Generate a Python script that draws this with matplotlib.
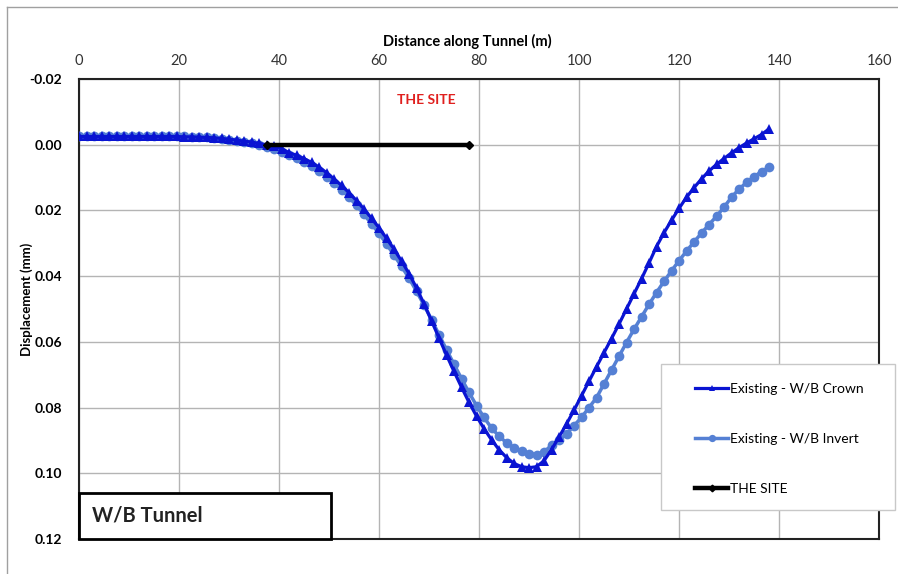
import matplotlib
matplotlib.use("Agg")
import matplotlib.pyplot as plt
from matplotlib.patches import Rectangle
from matplotlib.lines import Line2D
import numpy as np

plt.rcParams['font.family'] = ['Lato', 'DejaVu Sans']

# Chainage along the tunnel (m), one reading every 1.5 m
distance = [
    0.0, 1.5, 3.0, 4.5, 6.0, 7.5, 9.0, 10.5, 12.0, 13.5, 15.0, 16.5, 18.0, 19.5,
    21.0, 22.5, 24.0, 25.5, 27.0, 28.5, 30.0, 31.5, 33.0, 34.5, 36.0, 37.5, 39.0,
    40.5, 42.0, 43.5, 45.0, 46.5, 48.0, 49.5, 51.0, 52.5, 54.0, 55.5, 57.0, 58.5,
    60.0, 61.5, 63.0, 64.5, 66.0, 67.5, 69.0, 70.5, 72.0, 73.5, 75.0, 76.5, 78.0,
    79.5, 81.0, 82.5, 84.0, 85.5, 87.0, 88.5, 90.0, 91.5, 93.0, 94.5, 96.0, 97.5,
    99.0, 100.5, 102.0, 103.5, 105.0, 106.5, 108.0, 109.5, 111.0, 112.5, 114.0,
    115.5, 117.0, 118.5, 120.0, 121.5, 123.0, 124.5, 126.0, 127.5, 129.0, 130.5,
    132.0, 133.5, 135.0, 136.5, 138.0,
]

crown = [
    -0.0025, -0.0025, -0.0025, -0.0025, -0.0025, -0.0025, -0.0025, -0.0025,
    -0.0025, -0.0025, -0.0025, -0.0025, -0.0025, -0.0025, -0.0024, -0.0024,
    -0.0023, -0.0022, -0.0021, -0.0019, -0.0017, -0.0014, -0.0011, -0.0008,
    -0.0004, 0.0000, 0.0005, 0.0012, 0.0024, 0.0032, 0.0042, 0.0054, 0.0068,
    0.0085, 0.0104, 0.0124, 0.0146, 0.0170, 0.0196, 0.0224, 0.0253, 0.0285,
    0.0318, 0.0354, 0.0392, 0.0436, 0.0484, 0.0536, 0.0588, 0.0640, 0.0690,
    0.0738, 0.0784, 0.0826, 0.0864, 0.0898, 0.0928, 0.0952, 0.0970, 0.0980,
    0.0983, 0.0980, 0.0962, 0.0928, 0.0890, 0.0850, 0.0808, 0.0764, 0.0720,
    0.0676, 0.0633, 0.0590, 0.0546, 0.0500, 0.0454, 0.0408, 0.0360, 0.0310,
    0.0268, 0.0230, 0.0194, 0.0160, 0.0131, 0.0104, 0.0080, 0.0060, 0.0042,
    0.0025, 0.0009, -0.0005, -0.0018, -0.0031, -0.0048,
]

invert = [
    -0.0025, -0.0025, -0.0025, -0.0025, -0.0025, -0.0025, -0.0025, -0.0025,
    -0.0025, -0.0025, -0.0025, -0.0025, -0.0025, -0.0025, -0.0025, -0.0024,
    -0.0023, -0.0022, -0.0020, -0.0018, -0.0015, -0.0012, -0.0008, -0.0004,
    0.0001, 0.0007, 0.0014, 0.0022, 0.0031, 0.0041, 0.0052, 0.0065, 0.0080,
    0.0097, 0.0116, 0.0137, 0.0160, 0.0185, 0.0212, 0.0241, 0.0270, 0.0302,
    0.0336, 0.0370, 0.0406, 0.0446, 0.0488, 0.0532, 0.0578, 0.0624, 0.0668,
    0.0712, 0.0754, 0.0794, 0.0830, 0.0862, 0.0887, 0.0907, 0.0922, 0.0933,
    0.0940, 0.0943, 0.0935, 0.0915, 0.0900, 0.0880, 0.0855, 0.0830, 0.0800,
    0.0770, 0.0728, 0.0686, 0.0644, 0.0602, 0.0562, 0.0524, 0.0486, 0.0450,
    0.0416, 0.0384, 0.0353, 0.0324, 0.0296, 0.0269, 0.0243, 0.0218, 0.0190,
    0.0160, 0.0135, 0.0115, 0.0097, 0.0082, 0.0068,
]

# Extent of the site along the tunnel
site_x = [37.5, 78.0]
site_y = [0.0, 0.0]

x_ticks = [0, 20, 40, 60, 80, 100, 120, 140, 160]
y_ticks = [-0.02, 0.00, 0.02, 0.04, 0.06, 0.08, 0.10, 0.12]

W, H = 898, 574
fig = plt.figure(figsize=(W / 100, H / 100), dpi=100)
ax = fig.add_axes([79 / W, 1 - 539 / H, 800 / W, 460 / H])

# thin grey outer frame of the chart area
fig.add_artist(Line2D([7 / W, 7 / W], [0, 1 - 7 / H], transform=fig.transFigure,
                      color='#a0a0a0', lw=1.0))
fig.add_artist(Line2D([7 / W, 1], [1 - 7 / H, 1 - 7 / H], transform=fig.transFigure,
                      color='#a0a0a0', lw=1.0))

crown_color = '#0a14d2'
invert_color = '#5580d4'

ax.plot(distance, invert, color=invert_color, lw=2.5, marker='o', markersize=7.0,
        markeredgewidth=0, label='Existing - W/B Invert', zorder=3)
ax.plot(distance, crown, color=crown_color, lw=2.3, marker='^', markersize=6.6,
        markeredgewidth=0, label='Existing - W/B Crown', zorder=4)
ax.plot(site_x, site_y, color='black', lw=3.2, marker='D', markersize=4.5,
        label='THE SITE', zorder=5)

ax.set_xlim(0, 160)
ax.set_ylim(0.12, -0.02)
ax.set_xticks(x_ticks)
ax.set_yticks(y_ticks)
ax.set_yticklabels([f'{v:.2f}' for v in y_ticks])
ax.xaxis.tick_top()
ax.xaxis.set_label_position('top')
ax.tick_params(axis='x', length=0, pad=8, labelsize=10.5, labelcolor='#333333')
ax.tick_params(axis='y', length=0, pad=12, labelsize=10)
for lab in ax.get_yticklabels():
    lab.set_fontweight('bold')

ax.grid(True, color='#b4b4b4', lw=1.0)
ax.set_axisbelow(True)
for sp in ax.spines.values():
    sp.set_color('#222222')
    sp.set_linewidth(1.5)

ax.set_xlabel('Distance along Tunnel (m)', fontsize=10.5, fontweight='bold')
ax.xaxis.set_label_coords(0.485, 1.072)
ax.set_ylabel('Displacement (mm)', fontsize=9.5, fontweight='bold')
ax.yaxis.set_label_coords(-0.057, 0.52)

ax.text(69.5, -0.0135, 'THE SITE', color='#e0201e', fontsize=10,
        fontweight='bold', ha='center', va='center')

# label box in the lower-left corner
ax.add_patch(Rectangle((0, 0), 252 / 800, 46 / 460, transform=ax.transAxes,
                       facecolor='white', edgecolor='black', lw=2.0, zorder=6,
                       clip_on=False))
ax.text(13 / 800, 24 / 460, 'W/B Tunnel', transform=ax.transAxes, fontsize=14.5,
        fontweight='bold', color='#222222', ha='left', va='center', zorder=7)

# legend panel
fig.add_artist(Rectangle((661 / W, 1 - 510 / H), 234 / W, 146 / H,
                         transform=fig.transFigure, facecolor='white',
                         edgecolor='#c8c8c8', lw=1.0, zorder=8))
handles, labels = ax.get_legend_handles_labels()
order = [1, 0, 2]
leg = fig.legend([handles[i] for i in order], [labels[i] for i in order],
                 loc='upper left', bbox_to_anchor=(695 / W, 1 - 383 / H),
                 fontsize=10, frameon=False, labelspacing=2.72,
                 handlelength=2.4, handletextpad=0.1, borderpad=0,
                 borderaxespad=0, markerscale=0.75)
leg.set_zorder(9)

fig.savefig('out.png', dpi=100, facecolor='white')
